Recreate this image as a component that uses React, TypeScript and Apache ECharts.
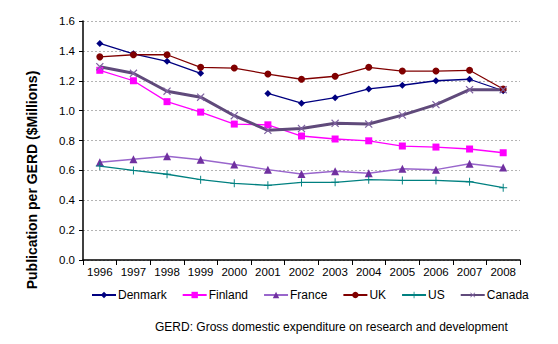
import React, { useEffect, useRef } from "react";
import * as echarts from "echarts";

const years = ["1996","1997","1998","1999","2000","2001","2002","2003","2004","2005","2006","2007","2008"];
const denmark = [1.45, 1.38, 1.33, 1.25, null, 1.115, 1.05, 1.087, 1.145, 1.17, 1.20, 1.21, 1.133];
const finland = [1.27, 1.20, 1.06, 0.99, 0.91, 0.905, 0.83, 0.81, 0.798, 0.763, 0.756, 0.743, 0.718];
const france = [0.654, 0.674, 0.694, 0.671, 0.64, 0.605, 0.576, 0.594, 0.58, 0.611, 0.605, 0.645, 0.62];
const uk = [1.36, 1.374, 1.374, 1.29, 1.285, 1.245, 1.21, 1.23, 1.29, 1.265, 1.265, 1.27, 1.145];
const us = [0.629, 0.60, 0.574, 0.538, 0.513, 0.50, 0.519, 0.52, 0.538, 0.533, 0.533, 0.524, 0.484];
const canada = [1.294, 1.25, 1.13, 1.09, 0.966, 0.868, 0.88, 0.915, 0.91, 0.97, 1.04, 1.14, 1.14];

const plusPath = "path://M4.4,0H5.6V4.4H10V5.6H5.6V10H4.4V5.6H0V4.4H4.4Z";

export default function App() {
  const ref = useRef<HTMLDivElement>(null);
  useEffect(() => {
    const chart = echarts.init(ref.current!, null, { renderer: "svg" });
    const font = "'Liberation Sans', Arial, sans-serif";
    const mk = (name: string, data: any[], color: string, lineColor: string, symbol: string, size: number, width: number, extra: any = {}) => ({
      name,
      type: "line",
      data,
      symbol,
      symbolSize: size,
      showSymbol: true,
      connectNulls: false,
      itemStyle: { color },
      lineStyle: { color: lineColor, width },
      emphasis: { disabled: true },
      ...extra,
    });
    chart.setOption({
      animation: false,
      textStyle: { fontFamily: font },
      grid: { left: 83, right: 38, top: 21, bottom: 84, containLabel: false },
      legend: {
        left: 86,
        top: 284,
        itemWidth: 24,
        itemHeight: 8,
        itemGap: 15,
        textStyle: { fontFamily: font, fontSize: 12, color: "#000", padding: [0, 0, 0, -3] },
        data: ["Denmark", "Finland", "France", "UK", "US", "Canada"],
      },
      xAxis: {
        type: "category",
        data: years,
        boundaryGap: true,
        axisLine: { lineStyle: { color: "#000", width: 1.5 } },
        axisTick: { show: true, inside: false, length: 5, lineStyle: { color: "#000" } },
        axisLabel: { color: "#000", fontSize: 11.5, fontFamily: font, margin: 6, interval: 0 },
      },
      yAxis: {
        type: "value",
        min: 0,
        max: 1.6,
        interval: 0.2,
        axisLine: { show: true, lineStyle: { color: "#000", width: 1.5 } },
        axisTick: { show: true, length: 4, lineStyle: { color: "#000" } },
        axisLabel: { color: "#000", fontSize: 11.5, fontFamily: font, formatter: (v: number) => v.toFixed(1) },
        splitLine: { lineStyle: { color: "#b4b4b4", type: [2, 2], width: 1 } },
      },
      graphic: [
        {
          type: "text",
          x: 32,
          y: 180,
          rotation: Math.PI / 2,
          style: {
            text: "Publication per GERD ($Millions)",
            fontFamily: font,
            fontSize: 14,
            fontWeight: "bold",
            fill: "#000",
            align: "center",
            verticalAlign: "middle",
          },
        },
        {
          type: "text",
          left: 155,
          top: 321,
          style: {
            text: "GERD: Gross domestic expenditure on research and development",
            fontFamily: font,
            fontSize: 12,
            fill: "#000",
          },
        },
      ],
      series: [
        mk("Denmark", denmark, "#000080", "#000080", "diamond", 7, 1.3),
        mk("Finland", finland, "#FF00FF", "#FF00FF", "rect", 7, 1.3),
        mk("France", france, "#7030A0", "#9966CC", "triangle", 8, 1.5),
        mk("UK", uk, "#800000", "#800000", "circle", 7, 1.3),
        mk("US", us, "#008080", "#008080", plusPath, 8, 1.3),
        mk("Canada", canada, "#8064A2", "#604A7B", plusPath, 10, 3, { symbolRotate: 45 }),
      ],
    });
    return () => chart.dispose();
  }, []);
  return <div ref={ref} style={{ width: 558, height: 344, position: "absolute", left: 0, top: 0 }} />;
}
